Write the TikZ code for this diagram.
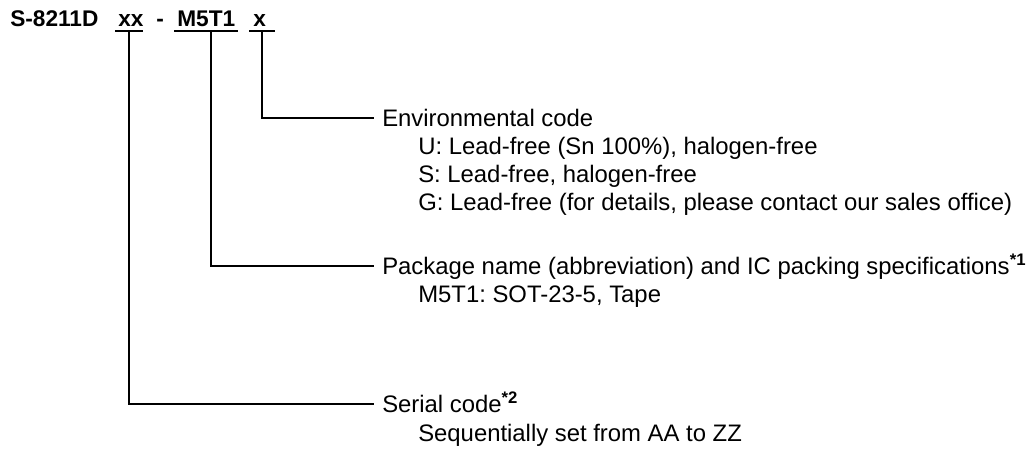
\documentclass[tikz,border=0pt]{standalone}
\usepackage{fontspec}
\setmainfont{Liberation Sans}
\frenchspacing
\begin{document}
\begin{tikzpicture}[x=0.75pt,y=-0.75pt,
  txt/.style={anchor=base west,inner sep=0pt,font=\fontsize{17.9pt}{21pt}\selectfont},
  ttl/.style={anchor=base west,inner sep=0pt,font=\fontsize{17pt}{20pt}\selectfont\bfseries},
  ul/.style={line width=0.9pt},
  conn/.style={line width=0.9pt}]
\useasboundingbox (0,0) rectangle (1027,457);
% title
\node[ttl] (pn) at (10,26) {S-8211D};
\node[ttl] (xx) at (118,26) {xx};
\node[ttl] (dash) at (156,26) {-};
\node[ttl] (m5) at (177,26) {M5T1};
\node[ttl] (x) at (253,26) {x};
\coordinate (ulxxA) at (115,31); \coordinate (ulxxB) at (143,31);
\coordinate (ulmA) at (174,31); \coordinate (ulmB) at (238,31);
\coordinate (ulxA) at (249,31); \coordinate (ulxB) at (275,31);
\draw[ul] (ulxxA) -- (ulxxB);
\draw[ul] (ulmA) -- (ulmB);
\draw[ul] (ulxA) -- (ulxB);
\coordinate (cxx) at (129,31);
\coordinate (cm) at (211,31);
\coordinate (cx) at (262,31);
% texts
\node[txt] (env) at (382,126) {Environmental code};
\node[txt] (u) at (418,154) {U: Lead-free (Sn 100\%), halogen-free};
\node[txt] (s) at (418,182) {S: Lead-free, halogen-free};
\node[txt] (g) at (418,210) {G: Lead-free (for details, please contact our sales office)};
\node[txt] (pkg) at (382,274) {Package name (abbreviation) and IC packing specifications\textsuperscript{\bfseries *1}};
\node[txt] (m5t1) at (418,302) {M5T1: SOT-23-5, Tape};
\node[txt] (ser) at (382,412) {Serial code\textsuperscript{\bfseries *2}};
\node[txt] (seq) at (418,441) {Sequentially set from AA to ZZ};
\coordinate (eenv) at (374,118);
\coordinate (epkg) at (374,266);
\coordinate (eser) at (374,404);
\draw[conn] (cx) |- (eenv);
\draw[conn] (cm) |- (epkg);
\draw[conn] (cxx) |- (eser);
\end{tikzpicture}
\end{document}
